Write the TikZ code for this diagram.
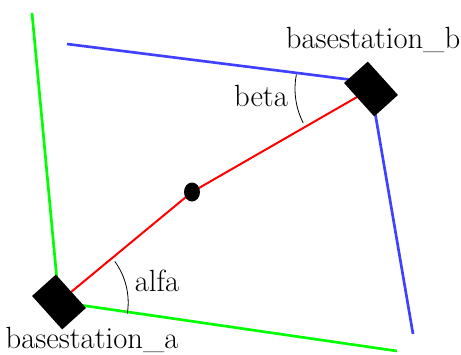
\documentclass[tikz,border=0pt]{standalone}
\usepackage{tikz}

\tikzset{
  station/.style={rectangle, fill=black, inner sep=0pt, minimum width=33.75pt, minimum height=24pt, rotate=-48},
  lbl/.style={font=\fontsize{23}{27}\selectfont, inner sep=0pt},
}

\begin{document}
\begin{tikzpicture}[x=0.75pt,y=-0.75pt]
\useasboundingbox (0,0) rectangle (461,354);
% positions
\coordinate (a) at (59,302);
\coordinate (b) at (371,89);
\coordinate (p) at (192,192);
\coordinate (ga) at (32,13);
\coordinate (gb) at (397,351);
\coordinate (ba) at (67,44);
\coordinate (bb) at (413,334);
\coordinate (bc) at (369,82);
% walls
\draw[line width=2pt, green] (ga) -- (a) -- (gb);
\draw[line width=2pt, blue!75] (ba) -- (bc);
\draw[line width=2pt, blue!75] (b) -- (bb);
% sight line
\draw[line width=1.5pt, red] (a) -- (p) -- (b);
\fill[black] (p) ellipse (8 and 9.5);
% angles
\draw[line width=0.6pt] (a) ++(-36:69) arc[start angle=-36, end angle=9, radius=70];
\draw[line width=0.6pt] (b) ++(191:76) arc[start angle=191, end angle=153, radius=75];
% stations
\node[station] (sta) at (a) {};
\node[station] (stb) at (b) {};
\node[lbl] (la) at (92,340) {basestation\_a};
\node[lbl] (lb) at (373,40) {basestation\_b};
\node[lbl] (alfa) at (157,281) {alfa};
\node[lbl] (beta) at (261,96) {beta};
\end{tikzpicture}
\end{document}
